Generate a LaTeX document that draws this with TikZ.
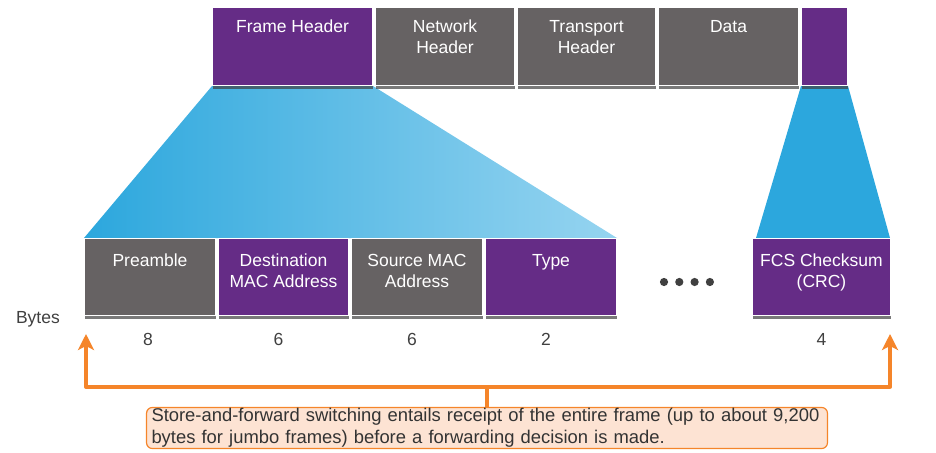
\documentclass[tikz,border=0pt]{standalone}
\usepackage{fontspec}
\setmainfont{Liberation Sans}
\usetikzlibrary{arrows.meta,positioning,shadows,backgrounds}

\definecolor{fpurple}{HTML}{652C86}
\definecolor{fgray}{HTML}{666263}
\definecolor{forange}{HTML}{F5852A}
\definecolor{fpeach}{HTML}{FDE3D3}
\definecolor{bluedark}{HTML}{2CA7DD}
\definecolor{bluelight}{HTML}{96D4F0}

\begin{document}
\begin{tikzpicture}[x=1pt,y=-1pt,node distance=2pt,
  field/.style={draw=white,line width=1pt,inner sep=0pt,anchor=north west,
    drop shadow={shadow xshift=0.5pt,shadow yshift=-3pt,fill=black!75,opacity=.7}},
  pfield/.style={field,fill=fpurple},
  gfield/.style={field,fill=fgray},
  ftext/.style={text=white,align=center,inner sep=0pt,anchor=north,
    font=\fontsize{17.5}{21}\selectfont},
  num/.style={inner sep=0pt,text=black!75,font=\fontsize{17.5}{20}\selectfont},
  oline/.style={draw=forange,line width=3.8pt,line join=round,
    -{Stealth[length=16pt,width=16pt,inset=4pt]}},
  note/.style={draw=forange,line width=1.2pt,fill=fpeach,rounded corners=6pt,
    text width=671pt,inner xsep=5pt,inner ysep=1pt,align=left,text=black!80,
    font=\fontsize{18.4}{22}\selectfont}]

\useasboundingbox (0,0) rectangle (936,452);

% frame on top
\node[pfield,minimum width=160pt,minimum height=78pt,label={[ftext,yshift=-13pt]north:Frame Header}] (fh) at (212,7) {};
 \node[gfield,minimum width=139pt,minimum height=78pt,label={[ftext,yshift=-13pt]north:Network\\Header}] (nh) [right=of fh] {};
	\node[gfield,minimum width=138pt,minimum height=78pt,label={[ftext,yshift=-13pt]north:Transport\\Header}] (th) [right=of nh] {};
	\node[gfield,minimum width=140pt,minimum height=78pt,label={[ftext,yshift=-13pt]north:Data}] (data) [right=of th] {};
	\node[pfield,minimum width=46pt,minimum height=78pt] (fcs) [right=of data] {};

% ethernet fields
\node[gfield,minimum width=131pt,minimum height=77pt,label={[ftext,yshift=-16pt]north:Preamble}] (pre) at (84,238) {};
 \node[pfield,minimum width=130pt,minimum height=77pt,label={[ftext,yshift=-16pt]north:Destination\\MAC Address}] (dst) [right=of pre] {};
	\node[gfield,minimum width=131pt,minimum height=77pt,label={[ftext,yshift=-16pt]north:Source MAC\\Address}] (src) [right=of dst] {};
	\node[pfield,minimum width=131pt,minimum height=77pt,label={[ftext,yshift=-16pt]north:Type}] (type) [right=of src] {};
	\node[pfield,minimum width=138pt,minimum height=77pt,label={[ftext,yshift=-16pt]north:FCS Checksum\\(CRC)}] (crc) at (752,238) {};

\foreach \i in {0,...,3}
  \fill[black!75] (664+15.3*\i,282) circle (4.1);

\node[num,anchor=east,yshift=-3pt] (bytes) [left=24pt of pre.south west] {Bytes};
\node[num,anchor=north,xshift=-2pt] (n8) [below=17pt of pre] {8};
	\node[num,anchor=north,xshift=-5pt] (n6a) [below=17pt of dst] {6};
	\node[num,anchor=north,xshift=-5pt] (n6b) [below=17pt of src] {6};
	\node[num,anchor=north,xshift=-5pt] (n2) [below=17pt of type] {2};
	\node[num,anchor=north] (n4) [below=17pt of crc] {4};

% zoom wedges
\begin{scope}[on background layer]
\shade[left color=bluedark,middle color=bluedark!80!bluelight,right color=bluelight]
   (fh.south west) -- (fh.south east) -- (type.north east) -- (pre.north west) -- cycle;
\fill[bluedark] (fcs.south west) -- (fcs.south east) -- ([xshift=-1pt]crc.north east) -- ([xshift=4pt]crc.north west) -- cycle;
\end{scope}

\node[note] (note) at (487,428) {Store-and-forward switching entails receipt of the entire frame (up to about 9,200\\bytes for jumbo frames) before a forwarding decision is made.};

\coordinate (ltip) at ([shift={(2,18)}]pre.south west);
\coordinate (rtip) at ([shift={(-1,18)}]crc.south east);
\draw[oline,-] (note.north) -- ++(0,-20) coordinate (bar);
\path[oline] (bar) -| (ltip);
	\path[oline] (bar) -| (rtip);

\end{tikzpicture}
\end{document}
